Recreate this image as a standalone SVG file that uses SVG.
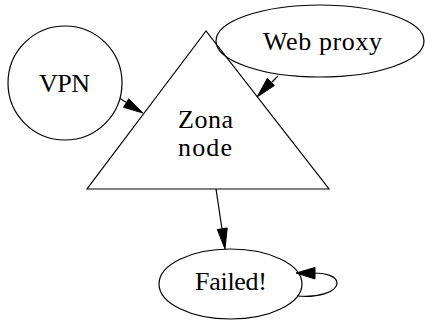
<svg xmlns="http://www.w3.org/2000/svg" width="425" height="320" viewBox="0 0 425 320">
<style>
.n{fill:none;stroke:#000;stroke-width:1.2}
.t{font-family:"Liberation Serif","Times New Roman",serif;font-size:26px;fill:#000;text-anchor:middle}
.e{fill:none;stroke:#000;stroke-width:1.2}
.a{fill:#000;stroke:#000;stroke-width:1}
</style>
<rect width="425" height="320" fill="#fff"/>
<g id="zona">
<polygon class="n" points="206,31 87,189 329,189"/>
<text class="t" x="205.5" y="128" textLength="55" lengthAdjust="spacing">Zona</text>
<text class="t" x="205" y="156" textLength="54" lengthAdjust="spacing">node</text>
</g>
<g id="vpn">
<circle class="n" cx="65" cy="83" r="57"/>
<text class="t" x="64.5" y="92" textLength="51" lengthAdjust="spacing">VPN</text>
</g>
<g id="webproxy">
<ellipse class="n" cx="320" cy="41" rx="104" ry="36"/>
<text class="t" x="322.5" y="50" textLength="119" lengthAdjust="spacing">Web proxy</text>
</g>
<g id="failed">
<ellipse class="n" cx="230.5" cy="284" rx="71.5" ry="35"/>
<text class="t" x="231" y="290" textLength="72" lengthAdjust="spacing">Failed!</text>
</g>
<g id="connectors">
<line class="e" x1="120" y1="98.5" x2="126" y2="102.2"/>
<polygon class="a" points="143,113 123.5,107.3 128.7,98.8"/>
<line class="e" x1="278" y1="76" x2="272" y2="82"/>
<polygon class="a" points="257,97 267.3,78.4 274.4,85.5"/>
<line class="e" x1="216" y1="189" x2="222" y2="229"/>
<polygon class="a" points="225,249 217.3,229.5 227.2,228"/>
<path class="e" d="M297,296 C318,298 337,292 337,283 C337,276 325,273 313,273"/>
<polygon class="a" points="296,273 315,267.5 315,279"/>
</g>
</svg>
